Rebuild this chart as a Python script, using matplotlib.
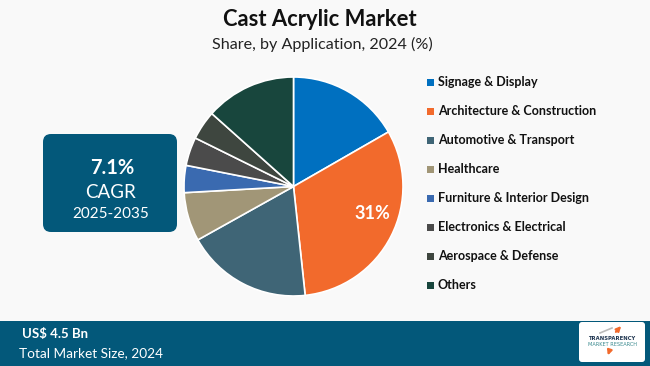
import matplotlib
matplotlib.use("Agg")
import matplotlib.pyplot as plt
from matplotlib.patches import FancyBboxPatch, Rectangle
import numpy as np

# ---- data ----
categories = ["Signage & Display", "Architecture & Construction", "Automotive & Transport",
              "Healthcare", "Furniture & Interior Design", "Electronics & Electrical",
              "Aerospace & Defense", "Others"]
shares = [16.7, 31.6, 18.6, 7.2, 4.0, 4.2, 4.3, 13.4]
colors = ["#0070C0", "#F26A2C", "#3F6576", "#A19677", "#3A6AB0", "#4B4B4B", "#3E463F", "#18463D"]
label_text = "31%"
title = "Cast Acrylic Market"
subtitle = "Share, by Application, 2024 (%)"
cagr_value = "7.1%"
cagr_label = "CAGR"
cagr_period = "2025-2035"
market_value = "US$ 4.5 Bn"
market_label = "Total Market Size, 2024"

W, H = 650, 366
BG = "#F9F9F9"
TEAL = "#03587A"

fig = plt.figure(figsize=(W / 100, H / 100), dpi=100)
fig.patch.set_facecolor(BG)

# overlay axes in pixel coordinates
ov = fig.add_axes([0, 0, 1, 1])
ov.set_xlim(0, W)
ov.set_ylim(H, 0)
ov.axis("off")
ov.set_facecolor("none")

# title
ov.text(320, 20, title, ha="center", va="center", fontsize=15.8, fontweight="bold",
        family="Lato", color="#111111")
ov.text(322, 44, subtitle, ha="center", va="center", fontsize=11.6,
        family="Lato", color="#222222")

# CAGR box
ov.add_patch(FancyBboxPatch((43 + 8, 134 + 8), 134 - 16, 98 - 16,
                            boxstyle="round,pad=8", facecolor=TEAL, edgecolor="none"))
ov.text(112, 168, cagr_value, ha="center", va="center", fontsize=14.5, fontweight="bold",
        family="Lato", color="white")
ov.text(111, 193, cagr_label, ha="center", va="center", fontsize=13.5,
        family="Lato", color="white")
ov.text(111, 214, cagr_period, ha="center", va="center", fontsize=11,
        family="Lato", color="white")

# bottom bar
ov.add_patch(Rectangle((0, 321), W, H - 321, facecolor=TEAL, edgecolor="none"))
ov.text(22, 334, market_value, ha="left", va="center", fontsize=9.5, fontweight="bold",
        family="Lato", color="white")
ov.text(19, 353, market_label, ha="left", va="center", fontsize=9.8,
        family="Lato", color="white")

# logo
ov.add_patch(FancyBboxPatch((582, 325), 60, 34, boxstyle="round,pad=3",
                            facecolor="white", edgecolor="none"))
ov.text(612, 339, "TRANSPARENCY", ha="center", va="center", fontsize=3.8,
        fontweight="bold", family="DejaVu Sans", color="#1F3550")
ov.text(612, 345, "MARKET RESEARCH", ha="center", va="center", fontsize=3.6,
        family="DejaVu Sans", color="#3A8A8F")
ov.annotate("", xy=(623, 324), xytext=(614, 334),
            arrowprops=dict(arrowstyle="-|>", color="#F26A2C", lw=1.5, mutation_scale=7))
ov.plot([600, 612], [333, 328], color="#BBBBBB", lw=1.2)
ov.annotate("", xy=(607, 358), xytext=(610, 349),
            arrowprops=dict(arrowstyle="-|>", color="#F26A2C", lw=1.5, mutation_scale=7))

# legend
leg_x, leg_y0, leg_dy = 427, 82, 29
for i, (c, name) in enumerate(zip(colors, categories)):
    y = leg_y0 + i * leg_dy
    ov.add_patch(Rectangle((leg_x, y - 3.5), 7, 7, facecolor=c, edgecolor="none"))
    ov.text(leg_x + 11, y, name, ha="left", va="center", fontsize=9, fontweight="bold",
            family="Lato", color="#111111")

# pie
cx, cy, r = 293.5, 186.5, 109.5
pax = fig.add_axes([(cx - r) / W, 1 - (cy + r) / H, 2 * r / W, 2 * r / H])
wedges, _ = pax.pie(shares, colors=colors, startangle=90, counterclock=False,
                    wedgeprops=dict(edgecolor="white", linewidth=1.2))
pax.set_xlim(-1, 1)
pax.set_ylim(-1, 1)
pax.set_aspect("auto")
w = wedges[1]
ang = np.deg2rad((w.theta1 + w.theta2) / 2)
pax.text(0.76 * np.cos(ang) + 0.04, 0.76 * np.sin(ang) + 0.1, label_text, ha="center",
         va="center", fontsize=13, fontweight="bold", family="Lato", color="white")

fig.savefig("out.png", dpi=100, facecolor=BG)
